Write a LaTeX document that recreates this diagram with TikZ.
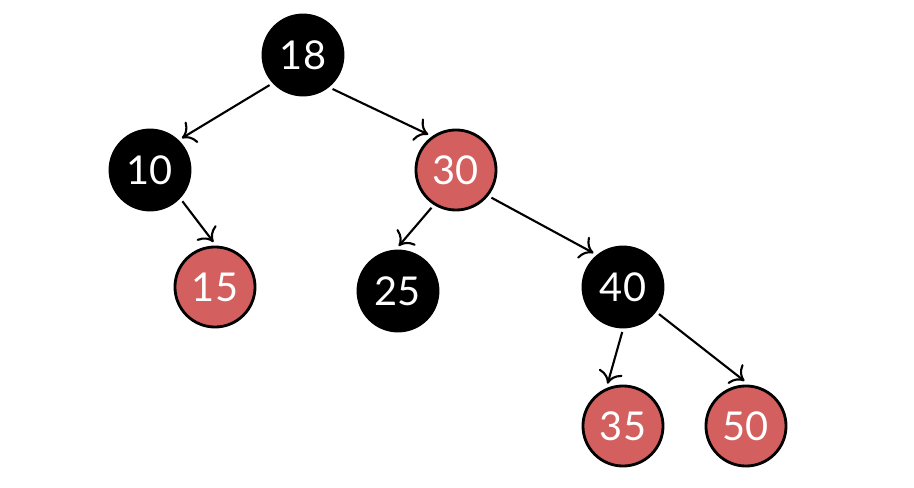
\documentclass[tikz,border=0pt]{standalone}
\usepackage{fontspec}
\setmainfont{Lato}
\usepackage{tikz}
\usetikzlibrary{arrows.meta}
\definecolor{rbred}{HTML}{D35F5F}
\tikzset{
  rbnode/.style={circle, draw=black, line width=0.8pt, minimum size=0.8cm, inner sep=0pt,
    outer sep=0.05cm, text=white, font=\fontsize{11.3}{13}\selectfont},
  blacknode/.style={rbnode, fill=black},
  rednode/.style={rbnode, fill=rbred},
  rbedge/.style={-{To[length=3.5pt,width=7pt]}, line width=0.6pt}
}

\begin{document}
\begin{tikzpicture}[x=0.01cm, y=-0.01cm]
    \useasboundingbox (0, 0) rectangle (914, 488);
    \node[blacknode] (n18) at (303, 55) {18};
    \node[blacknode] (n10) at (150, 170) {10};
    \node[rednode] (n30) at (456, 170) {30};
    \node[rednode] (n15) at (215, 287) {15};
    \node[blacknode] (n25) at (398, 291) {25};
    \node[blacknode] (n40) at (623, 287) {40};
    \node[rednode] (n35) at (623, 426) {35};
    \node[rednode] (n50) at (746, 426) {50};
    \draw[rbedge] (n18.222) -- (n10.45);
    \draw[rbedge] (n18.-49) -- (n30.128);
    \draw[rbedge] (n10.-44) -- (n15.92);
    \draw[rbedge] (n30.-123) -- (n25.89);
    \draw[rbedge] (n30.-38) -- (n40.131);
    \draw[rbedge] (n40.-91) -- (n35.110);
    \draw[rbedge] (n40.-37) -- (n50.92);
  \end{tikzpicture}
\end{document}
